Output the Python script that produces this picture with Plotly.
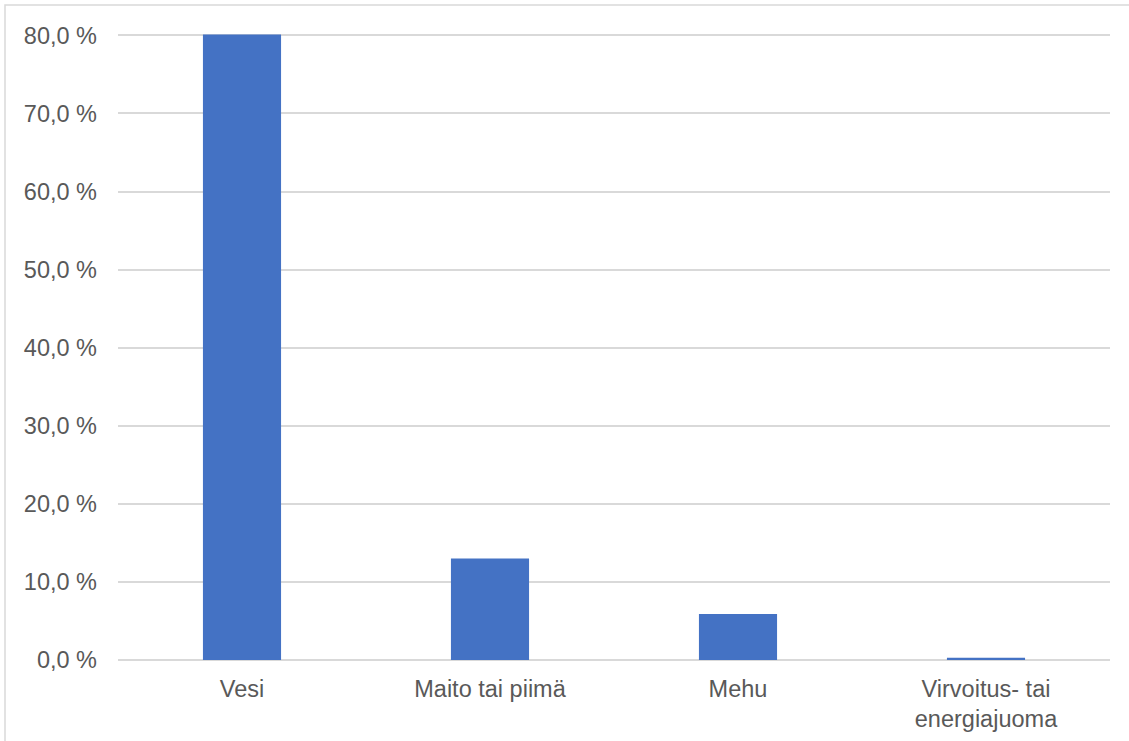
import plotly.graph_objects as go

categories = ["Vesi", "Maito tai piimä", "Mehu", "Virvoitus- tai<br>energiajuoma"]
values = [80.1, 13.0, 5.9, 0.3]
tick_vals = [0, 10, 20, 30, 40, 50, 60, 70, 80]
tick_text = ["0,0 %", "10,0 %", "20,0 %", "30,0 %", "40,0 %", "50,0 %", "60,0 %", "70,0 %", "80,0 %"]

fig = go.Figure()
fig.add_trace(go.Bar(
    x=categories, y=values,
    marker=dict(color="#4472C4", line=dict(width=0)),
    width=0.315,
    hoverinfo="skip",
))

fig.update_layout(
    width=1129, height=741,
    margin=dict(l=118, r=19, t=33, b=81),
    paper_bgcolor="white", plot_bgcolor="white",
    showlegend=False,
    font=dict(family="Liberation Sans, Arial, sans-serif", size=23.5, color="#595959"),
    xaxis=dict(
        showgrid=False, showline=False, zeroline=False,
        ticks="", tickfont=dict(size=23.5, color="#595959"),
        ticklabelstandoff=12, automargin=False,
    ),
    yaxis=dict(
        range=[0, 80.3],
        tickvals=tick_vals, ticktext=tick_text,
        showgrid=True, gridcolor="#D9D9D9", gridwidth=1.5,
        zeroline=True, zerolinecolor="#D9D9D9", zerolinewidth=1.5,
        showline=False, ticks="",
        tickfont=dict(size=23.5, color="#595959"),
        ticklabelstandoff=20, automargin=False,
    ),
    shapes=[dict(
        type="rect", xref="paper", yref="paper",
        x0=-113/992, x1=1.05, y0=-0.2, y1=1 + 28/627,
        line=dict(color="#D9D9D9", width=1.5),
        fillcolor="rgba(0,0,0,0)", layer="below",
    )],
)

fig.write_html("out.html")
